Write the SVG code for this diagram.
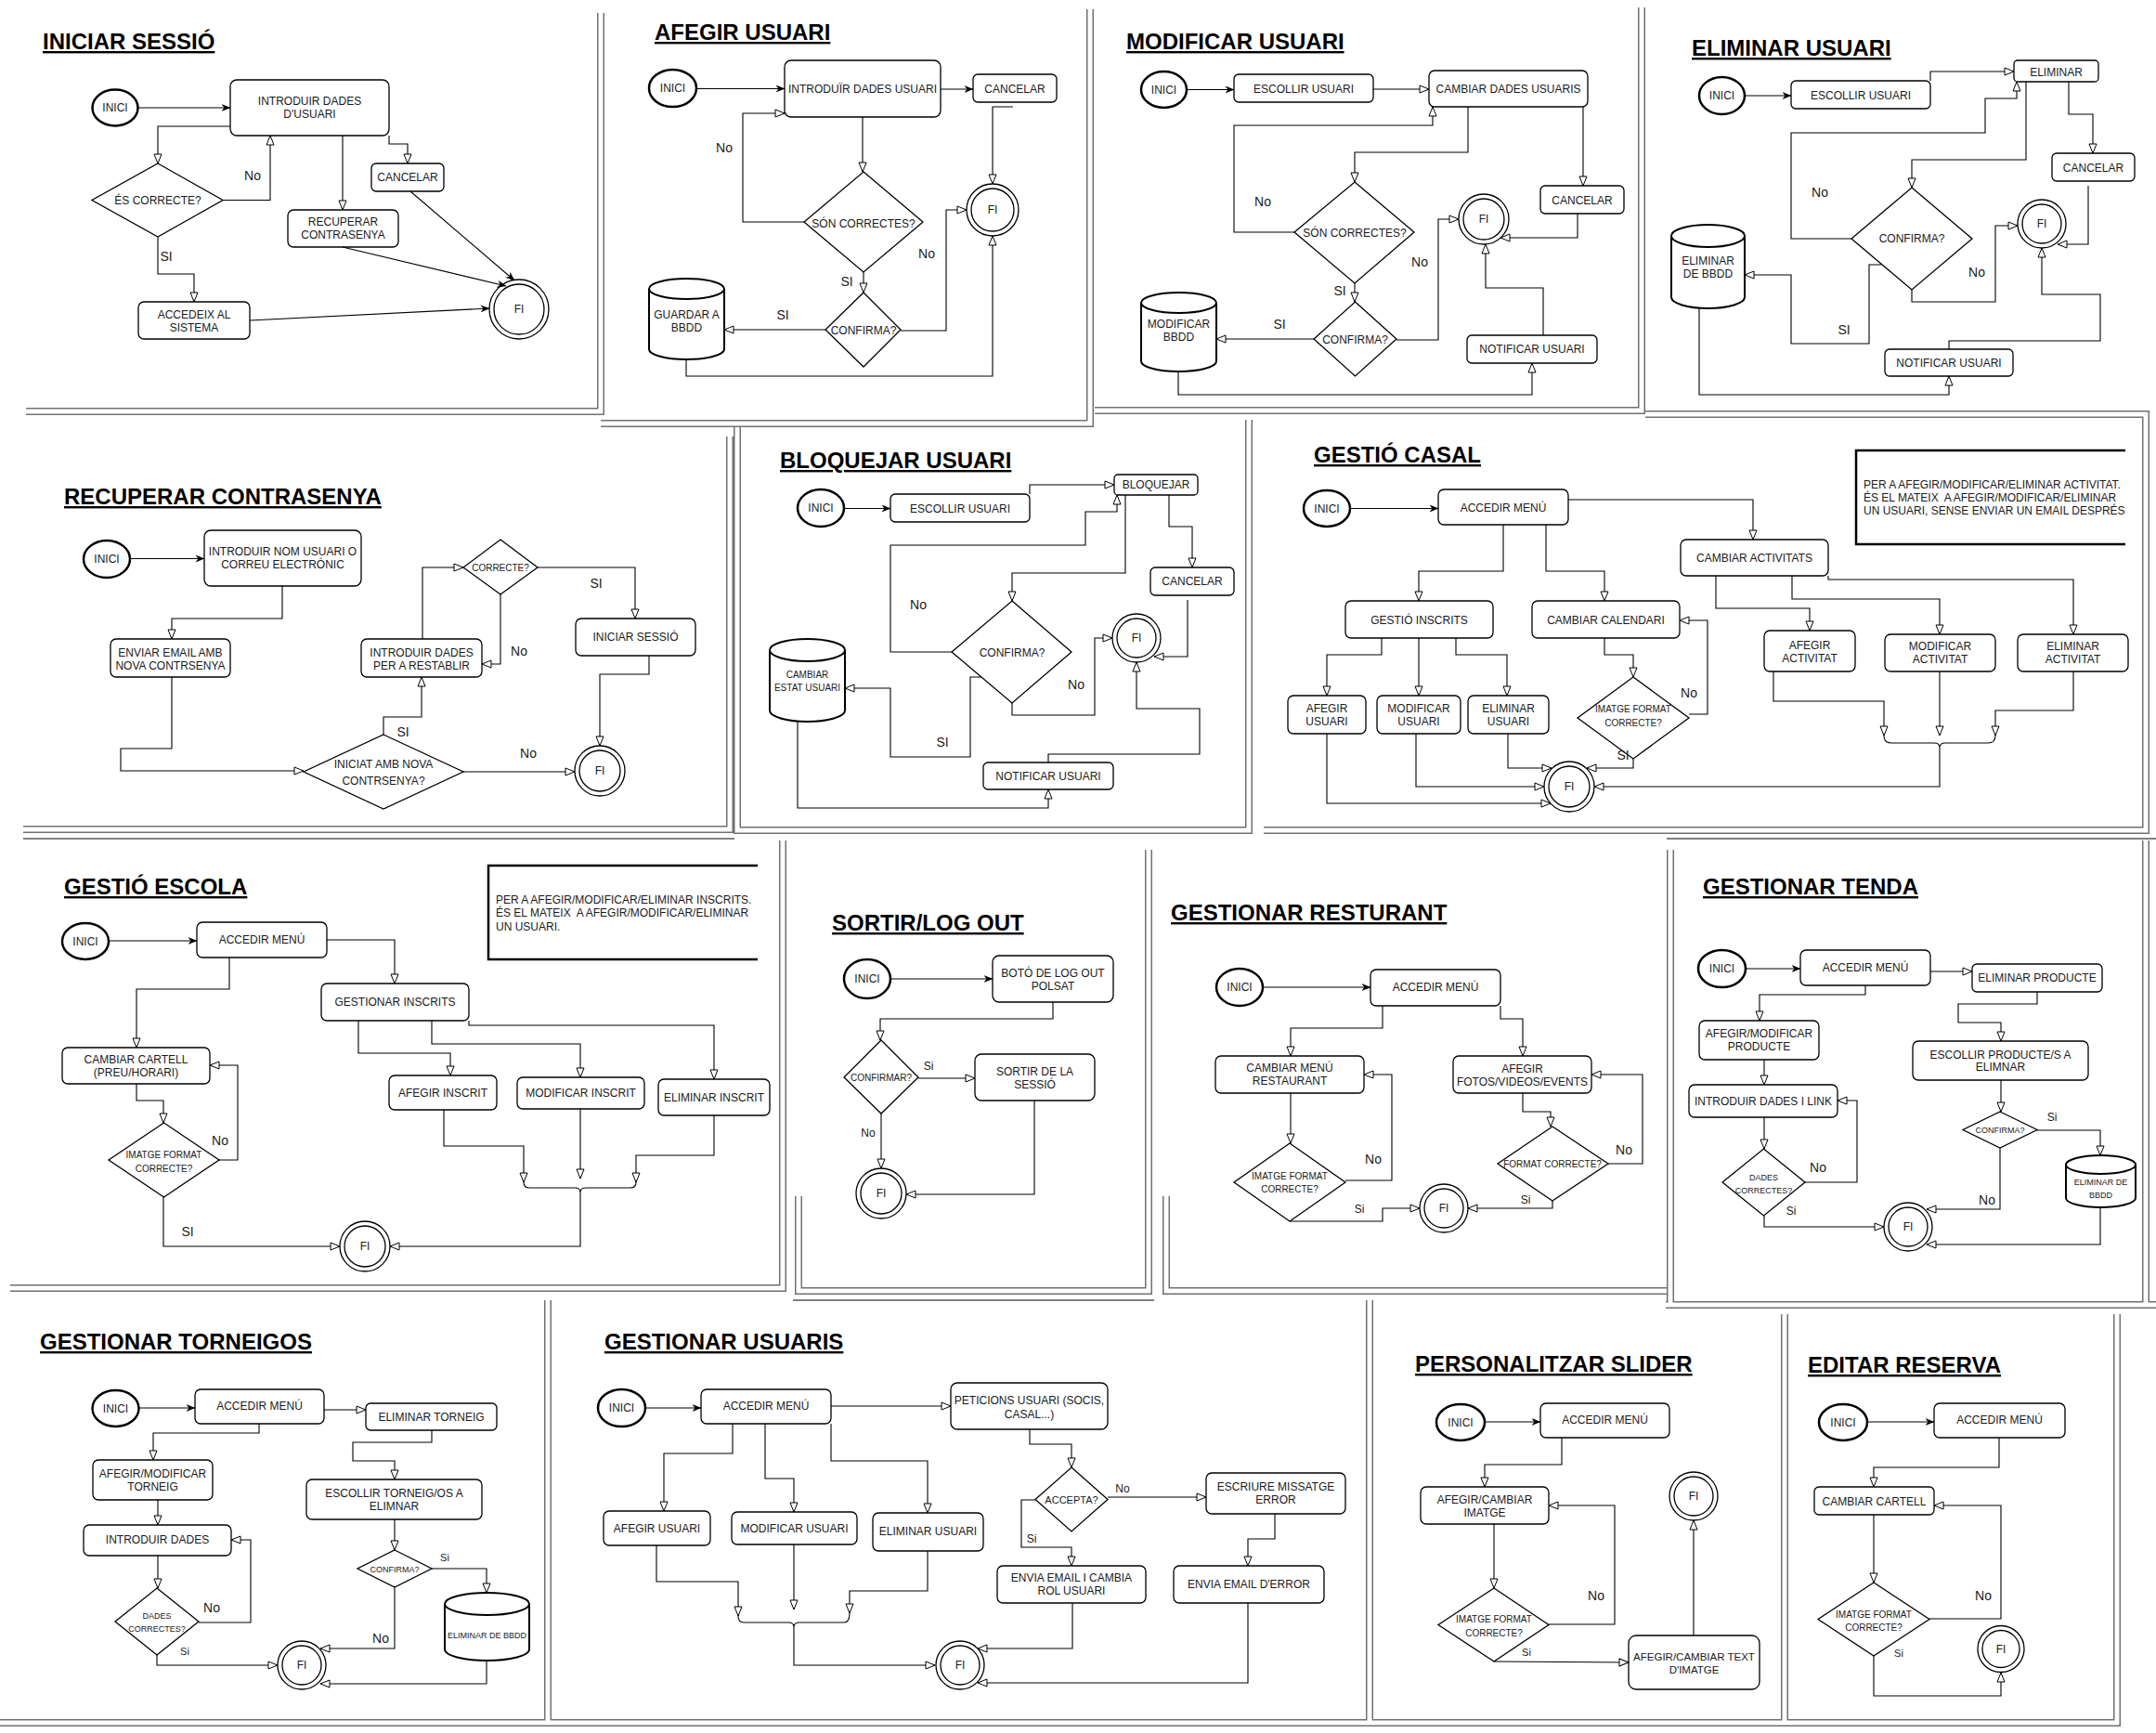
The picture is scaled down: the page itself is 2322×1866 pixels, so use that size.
<svg xmlns="http://www.w3.org/2000/svg" width="2322" height="1866" viewBox="0 0 2322 1866">
<defs>
<style>
text{font-family:"Liberation Sans",Arial,Helvetica,sans-serif;fill:#1a1a1a}
.t{font-size:12px;text-anchor:middle}
.t10{font-size:10px;text-anchor:middle}
.t9{font-size:9px;text-anchor:middle}
.lb{font-size:14px;text-anchor:middle}
.ls{font-size:12px;text-anchor:middle}
.lx{font-size:11px;text-anchor:middle}
.ttl{font-size:24px;font-weight:bold;text-decoration:underline;fill:#000}
.nt{font-size:12px}
.b{fill:#fff;stroke:#000;stroke-width:1.3}
.s{fill:#fff;stroke:#000;stroke-width:2.5}
.cy{fill:#fff;stroke:#000;stroke-width:2}
.fi{fill:#fff;stroke:#000;stroke-width:1.3}
.fo{fill:none;stroke:#000;stroke-width:1.3}
.e path{fill:none;stroke:#000;stroke-width:1.1;marker-end:url(#o)}
.e path.f{marker-end:url(#f)}
.e path.n{marker-end:none}
.note{fill:none;stroke:#000;stroke-width:2.5}
.fr{fill:none;stroke:#707070;stroke-width:8}
.fr2{fill:none;stroke:#fff;stroke-width:5}
.fr1{fill:none;stroke:#555;stroke-width:1.5}
</style>
<marker id="o" viewBox="0 0 12 10" refX="11" refY="5" markerWidth="12" markerHeight="10" markerUnits="userSpaceOnUse" orient="auto"><path d="M1,1 L11,5 L1,9 Z" fill="#fff" stroke="#000" stroke-width="1"/></marker>
<marker id="f" viewBox="0 0 10 8" refX="9.5" refY="4" markerWidth="10" markerHeight="8" markerUnits="userSpaceOnUse" orient="auto"><path d="M0,0 L10,4 L0,8 L3,4 Z" fill="#000"/></marker>
<path id="frames" d="M28,443 H647 V14 M647,456 H1174 V10 M1179,442 H1768 V8 M1772,446 H2311 V894 H1361 M25,893 H786 V470 M794,460 V894 H1345 V452 M11,1387 H843 V905 M860,1288 V1390 H1237 V915 M1256,1288 V1390 H1795 M1799,915 V1405 M1794,1405 H2322 M2311,905 V1405 M0,1855 H590 V1400 M590,1855 H1475 V1400 M1475,1855 H1922 V1415 M1922,1855 H2280 V1415"/>
</defs>
<rect x="0" y="0" width="2322" height="1866" fill="#fff"/>
<g id="frames-g">
<use href="#frames" class="fr"/>
<use href="#frames" class="fr2"/>
<path class="fr1" d="M25,903 H791 M1795,903 H2322 M854,1400 H1243"/>
</g>

<!-- PANEL 1 INICIAR SESSIO -->
<g id="p1">
<text class="ttl" x="46" y="53">INICIAR SESSIÓ</text>
<g id="p1-inici"><ellipse class="s" cx="124" cy="116" rx="24.5" ry="19.5"/><text class="t" x="124" y="120">INICI</text></g>
<g id="p1-intro"><rect class="b" x="248" y="86" width="171" height="60" rx="7"/><text class="t" x="333.5" y="113">INTRODUIR DADES</text><text class="t" x="333.5" y="127">D'USUARI</text></g>
<g id="p1-dec"><polygon class="b" points="170,176 240,215.5 170,255 99,215.5"/><text class="t" x="170" y="219.5">ÉS CORRECTE?</text></g>
<g id="p1-acc"><rect class="b" x="149" y="325" width="120" height="40" rx="6"/><text class="t" x="209" y="343">ACCEDEIX AL</text><text class="t" x="209" y="357">SISTEMA</text></g>
<g id="p1-rec"><rect class="b" x="310" y="226" width="119" height="40" rx="6"/><text class="t" x="369.5" y="243">RECUPERAR</text><text class="t" x="369.5" y="257">CONTRASENYA</text></g>
<g id="p1-can"><rect class="b" x="400" y="176" width="78" height="30" rx="5"/><text class="t" x="439" y="195">CANCELAR</text></g>
<g id="p1-fi"><circle class="fi" cx="559" cy="333" r="32"/><circle class="fo" cx="559" cy="333" r="27"/><text class="t" x="559" y="337">FI</text></g>
<g id="p1-edges" class="e">
<path class="f" d="M148.5,116 H248"/>
<path d="M248,136 H170 V176"/>
<path d="M240,215.5 H291 V146"/>
<path d="M170,255 V295 H209 V325"/>
<path class="f" d="M269,345 L527,332"/>
<path d="M369,146 V226"/>
<path d="M419,146 V155 H439 V176"/>
<path class="f" d="M369,266 L545,308"/>
<path class="f" d="M442,206 L554,302"/>
<text class="lb" x="272" y="194">No</text>
<text class="lb" x="179" y="281">SI</text>
</g>
</g>

<!-- PANEL 2 AFEGIR USUARI -->
<g id="p2">
<text class="ttl" x="705" y="43">AFEGIR USUARI</text>
<g id="p2-inici"><ellipse class="s" cx="724.5" cy="95" rx="25.5" ry="20"/><text class="t" x="724.5" y="99">INICI</text></g>
<g id="p2-intro"><rect class="b" x="845" y="65" width="168" height="61" rx="7"/><text class="t" x="929" y="100">INTRODUÏR DADES USUARI</text></g>
<g id="p2-can"><rect class="b" x="1048" y="80" width="90" height="30" rx="5"/><text class="t" x="1093" y="100">CANCELAR</text></g>
<g id="p2-fi"><circle class="fi" cx="1069" cy="226" r="28"/><circle class="fo" cx="1069" cy="226" r="23"/><text class="t" x="1069" y="230">FI</text></g>
<g id="p2-dec1"><polygon class="b" points="930,185 994,239 930,293 866,239"/><text class="t" x="930" y="245">SÓN CORRECTES?</text></g>
<g id="p2-dec2"><polygon class="b" points="930,315 970,355 930,395 889,355"/><text class="t" x="930" y="360">CONFIRMA?</text></g>
<g id="p2-db"><path class="cy" d="M699,311 A40.5,11 0 0 1 780,311 V376 A40.5,11 0 0 1 699,376 Z M699,311 A40.5,11 0 0 0 780,311"/><text class="t" x="739.5" y="343">GUARDAR A</text><text class="t" x="739.5" y="357">BBDD</text></g>
<g id="p2-edges" class="e">
<path class="f" d="M750,95.5 H845"/>
<path class="f" d="M1013,96 H1048"/>
<path d="M1091,115 H1069 V198"/>
<path d="M929,126 V185"/>
<path d="M866,239 H800 V122 H845"/>
<path d="M930,293 V315"/>
<path d="M970,356 H1019 V226 H1041"/>
<path d="M889,355 H780"/>
<path d="M739,387 V405 H1069 V254"/>
<text class="lb" x="780" y="164">No</text>
<text class="lb" x="912" y="308">SI</text>
<text class="lb" x="998" y="278">No</text>
<text class="lb" x="843" y="344">SI</text>
</g>
</g>

<!-- PANEL 3 MODIFICAR USUARI -->
<g id="p3">
<text class="ttl" x="1213" y="53">MODIFICAR USUARI</text>
<g id="p3-inici"><ellipse class="s" cx="1253.5" cy="96.5" rx="24.5" ry="19.5"/><text class="t" x="1253.5" y="100.5">INICI</text></g>
<g id="p3-esc"><rect class="b" x="1329" y="80" width="150" height="30" rx="5"/><text class="t" x="1404" y="100">ESCOLLIR USUARI</text></g>
<g id="p3-camb"><rect class="b" x="1539" y="76" width="171" height="39" rx="6"/><text class="t" x="1624.5" y="100">CAMBIAR DADES USUARIS</text></g>
<g id="p3-can"><rect class="b" x="1659" y="200" width="90" height="30" rx="5"/><text class="t" x="1704" y="220">CANCELAR</text></g>
<g id="p3-dec1"><polygon class="b" points="1459,196 1523,250 1459,305 1394,250"/><text class="t" x="1459" y="255">SÓN CORRECTES?</text></g>
<g id="p3-dec2"><polygon class="b" points="1459.5,325 1504,365 1459.5,405 1415,365"/><text class="t" x="1459.5" y="370">CONFIRMA?</text></g>
<g id="p3-db"><path class="cy" d="M1229,326 A40.5,11 0 0 1 1310,326 V389 A40.5,11 0 0 1 1229,389 Z M1229,326 A40.5,11 0 0 0 1310,326"/><text class="t" x="1269.5" y="353">MODIFICAR</text><text class="t" x="1269.5" y="367">BBDD</text></g>
<g id="p3-fi"><circle class="fi" cx="1598" cy="236" r="27"/><circle class="fo" cx="1598" cy="236" r="22"/><text class="t" x="1598" y="240">FI</text></g>
<g id="p3-not"><rect class="b" x="1580" y="361" width="140" height="30" rx="5"/><text class="t" x="1650" y="380">NOTIFICAR USUARI</text></g>
<g id="p3-edges" class="e">
<path class="f" d="M1278,96.5 H1329"/>
<path d="M1479,96 H1539"/>
<path d="M1705,115 V200"/>
<path d="M1581,115 V164 H1459 V196"/>
<path d="M1394,250 H1329 V135 H1543 V115"/>
<path d="M1459,305 V325"/>
<path d="M1415,365 H1310"/>
<path d="M1504,366 H1549 V236 H1571"/>
<path d="M1699,230 V256 H1616"/>
<path d="M1662,361 V310 H1600 V263"/>
<path d="M1269,400 V425 H1650 V391"/>
<text class="lb" x="1360" y="222">No</text>
<text class="lb" x="1443" y="318">SI</text>
<text class="lb" x="1529" y="287">No</text>
<text class="lb" x="1378" y="354">SI</text>
</g>
</g>

<!-- PANEL 4 ELIMINAR USUARI -->
<g id="p4">
<text class="ttl" x="1822" y="60">ELIMINAR USUARI</text>
<g id="p4-inici"><ellipse class="s" cx="1854.5" cy="103" rx="24.5" ry="20"/><text class="t" x="1854.5" y="107">INICI</text></g>
<g id="p4-esc"><rect class="b" x="1929" y="87" width="150" height="30" rx="5"/><text class="t" x="2004" y="107">ESCOLLIR USUARI</text></g>
<g id="p4-elim"><rect class="b" x="2169" y="65" width="91" height="23" rx="4"/><text class="t" x="2214.5" y="82">ELIMINAR</text></g>
<g id="p4-can"><rect class="b" x="2210" y="165" width="89" height="30" rx="5"/><text class="t" x="2254.5" y="185">CANCELAR</text></g>
<g id="p4-dec"><polygon class="b" points="2059,202 2124,257 2059,312 1994,257"/><text class="t" x="2059" y="261">CONFIRMA?</text></g>
<g id="p4-fi"><circle class="fi" cx="2199" cy="241" r="26"/><circle class="fo" cx="2199" cy="241" r="21"/><text class="t" x="2199" y="245">FI</text></g>
<g id="p4-db"><path class="cy" d="M1800,254 A39.5,12 0 0 1 1879,254 V320 A39.5,12 0 0 1 1800,320 Z M1800,254 A39.5,12 0 0 0 1879,254"/><text class="t" x="1839.5" y="285">ELIMINAR</text><text class="t" x="1839.5" y="299">DE BBDD</text></g>
<g id="p4-not"><rect class="b" x="2030" y="376" width="138" height="29" rx="5"/><text class="t" x="2099" y="395">NOTIFICAR USUARI</text></g>
<g id="p4-edges" class="e">
<path class="f" d="M1879,103 H1929"/>
<path d="M2079,87 V77 H2169"/>
<path d="M2228,88 V123 H2254 V165"/>
<path d="M2249,200 V263 H2216"/>
<path d="M2182,88 V172 H2059 V202"/>
<path d="M1994,257 H1929 V143 H2138 V106 H2172 V88"/>
<path d="M2026,285 H2013 V370 H1929 V296 H1879"/>
<path d="M2059,312 V325 H2149 V243 H2173"/>
<path d="M2099,376 V367 H2262 V317 H2199 V267"/>
<path d="M1830,332 V425 H2099 V405"/>
<text class="lb" x="1960" y="212">No</text>
<text class="lb" x="1986" y="360">SI</text>
<text class="lb" x="2129" y="298">No</text>
</g>
</g>

<!-- PANEL 5 RECUPERAR CONTRASENYA -->
<g id="p5">
<text class="ttl" x="69" y="543">RECUPERAR CONTRASENYA</text>
<g id="p5-inici"><ellipse class="s" cx="115" cy="602" rx="25" ry="20"/><text class="t" x="115" y="606">INICI</text></g>
<g id="p5-intro"><rect class="b" x="220" y="571" width="169" height="60" rx="7"/><text class="t" x="304.5" y="598">INTRODUIR NOM USUARI O</text><text class="t" x="304.5" y="612">CORREU ELECTRÓNIC</text></g>
<g id="p5-env"><rect class="b" x="119" y="688" width="129" height="41" rx="6"/><text class="t" x="183.5" y="707">ENVIAR EMAIL AMB</text><text class="t" x="183.5" y="721">NOVA CONTRSENYA</text></g>
<g id="p5-dec1"><polygon class="b" points="413,791 499,831 413,871 327,831"/><text class="t" x="413" y="827">INICIAT AMB NOVA</text><text class="t" x="413" y="845">CONTRSENYA?</text></g>
<g id="p5-rest"><rect class="b" x="389" y="688" width="130" height="41" rx="6"/><text class="t" x="454" y="707">INTRODUIR DADES</text><text class="t" x="454" y="721">PER A RESTABLIR</text></g>
<g id="p5-dec2"><polygon class="b" points="539,581 579,611 539,640 499,611"/><text class="t10" x="539" y="614.5">CORRECTE?</text></g>
<g id="p5-ini"><rect class="b" x="620" y="666" width="129" height="40" rx="6"/><text class="t" x="684.5" y="690">INICIAR SESSIÓ</text></g>
<g id="p5-fi"><circle class="fi" cx="646" cy="830" r="27"/><circle class="fo" cx="646" cy="830" r="22"/><text class="t" x="646" y="834">FI</text></g>
<g id="p5-edges" class="e">
<path class="f" d="M140,601.5 H220"/>
<path d="M304,631 V666 H185 V688"/>
<path d="M185,729 V806 H130 V830 H327"/>
<path d="M413,791 V772 H454 V729"/>
<path d="M455,688 V611 H499"/>
<path d="M539,640 V715 H519"/>
<path d="M579,611 H684 V666"/>
<path d="M699,706 V726 H646 V803"/>
<path d="M499,831 H619"/>
<text class="lb" x="434" y="793">SI</text>
<text class="lb" x="559" y="706">No</text>
<text class="lb" x="642" y="633">SI</text>
<text class="lb" x="569" y="816">No</text>
</g>
</g>

<!-- PANEL 6 BLOQUEJAR USUARI -->
<g id="p6">
<text class="ttl" x="840" y="504">BLOQUEJAR USUARI</text>
<g id="p6-inici"><ellipse class="s" cx="884" cy="547" rx="25" ry="20"/><text class="t" x="884" y="551">INICI</text></g>
<g id="p6-esc"><rect class="b" x="959" y="532" width="150" height="30" rx="5"/><text class="t" x="1034" y="552">ESCOLLIR USUARI</text></g>
<g id="p6-bloq"><rect class="b" x="1200" y="511" width="90" height="22" rx="4"/><text class="t" x="1245" y="526">BLOQUEJAR</text></g>
<g id="p6-can"><rect class="b" x="1239" y="611" width="90" height="30" rx="5"/><text class="t" x="1284" y="630">CANCELAR</text></g>
<g id="p6-dec"><polygon class="b" points="1090,647 1154,702 1090,757 1025,702"/><text class="t" x="1090" y="707">CONFIRMA?</text></g>
<g id="p6-db"><path class="cy" d="M829,700 A40.5,12 0 0 1 910,700 V765 A40.5,12 0 0 1 829,765 Z M829,700 A40.5,12 0 0 0 910,700"/><text class="t10" x="869.5" y="729.5">CAMBIAR</text><text class="t10" x="869.5" y="743.5">ESTAT USUARI</text></g>
<g id="p6-fi"><circle class="fi" cx="1224" cy="687" r="26"/><circle class="fo" cx="1224" cy="687" r="21"/><text class="t" x="1224" y="691">FI</text></g>
<g id="p6-not"><rect class="b" x="1059" y="821" width="140" height="29" rx="5"/><text class="t" x="1129" y="840">NOTIFICAR USUARI</text></g>
<g id="p6-edges" class="e">
<path class="f" d="M909,547.5 H959"/>
<path d="M1109,532 V522 H1200"/>
<path d="M1259,533 V567 H1284 V611"/>
<path d="M1279,646 V707 H1243"/>
<path d="M1212,533 V617 H1090 V647"/>
<path d="M1025,702 H959 V587 H1169 V551 H1203 V533"/>
<path d="M1057,729 H1045 V815 H959 V741 H910"/>
<path d="M1090,757 V770 H1179 V687 H1198"/>
<path d="M1129,821 V812 H1292 V763 H1224 V713"/>
<path d="M859,777 V870 H1129 V850"/>
<text class="lb" x="989" y="656">No</text>
<text class="lb" x="1015" y="804">SI</text>
<text class="lb" x="1159" y="742">No</text>
</g>
</g>

<!-- PANEL 7 GESTIO CASAL -->
<g id="p7">
<text class="ttl" x="1415" y="498">GESTIÓ CASAL</text>
<g id="p7-inici"><ellipse class="s" cx="1429" cy="547.5" rx="25" ry="19.5"/><text class="t" x="1429" y="551.5">INICI</text></g>
<g id="p7-menu"><rect class="b" x="1549" y="527" width="140" height="38" rx="6"/><text class="t" x="1619" y="551">ACCEDIR MENÚ</text></g>
<g id="p7-act"><rect class="b" x="1810" y="581" width="159" height="39" rx="6"/><text class="t" x="1889.5" y="605">CAMBIAR ACTIVITATS</text></g>
<g id="p7-ins"><rect class="b" x="1449" y="647" width="159" height="40" rx="6"/><text class="t" x="1528.5" y="672">GESTIÓ INSCRITS</text></g>
<g id="p7-cal"><rect class="b" x="1650" y="647" width="159" height="40" rx="6"/><text class="t" x="1729.5" y="672">CAMBIAR CALENDARI</text></g>
<g id="p7-afu"><rect class="b" x="1387" y="749" width="84" height="41" rx="6"/><text class="t" x="1429" y="767">AFEGIR</text><text class="t" x="1429" y="781">USUARI</text></g>
<g id="p7-mou"><rect class="b" x="1483" y="749" width="90" height="41" rx="6"/><text class="t" x="1528" y="767">MODIFICAR</text><text class="t" x="1528" y="781">USUARI</text></g>
<g id="p7-elu"><rect class="b" x="1581" y="749" width="87" height="41" rx="6"/><text class="t" x="1624.5" y="767">ELIMINAR</text><text class="t" x="1624.5" y="781">USUARI</text></g>
<g id="p7-dec"><polygon class="b" points="1759,729 1819,773 1759,817 1699,773"/><text class="t10" x="1759" y="766.5">IMATGE FORMAT</text><text class="t10" x="1759" y="781.5">CORRECTE?</text></g>
<g id="p7-fi"><circle class="fi" cx="1690" cy="847" r="27"/><circle class="fo" cx="1690" cy="847" r="22"/><text class="t" x="1690" y="851">FI</text></g>
<g id="p7-afa"><rect class="b" x="1900" y="679" width="98" height="44" rx="6"/><text class="t" x="1949" y="699">AFEGIR</text><text class="t" x="1949" y="713">ACTIVITAT</text></g>
<g id="p7-moa"><rect class="b" x="2030" y="683" width="119" height="40" rx="6"/><text class="t" x="2089.5" y="700">MODIFICAR</text><text class="t" x="2089.5" y="714">ACTIVITAT</text></g>
<g id="p7-ela"><rect class="b" x="2173" y="683" width="119" height="40" rx="6"/><text class="t" x="2232.5" y="700">ELIMINAR</text><text class="t" x="2232.5" y="714">ACTIVITAT</text></g>
<g id="p7-note"><path class="note" d="M2289,485 H1999 V586 H2289"/><text class="nt" x="2007" y="526">PER A AFEGIR/MODIFICAR/ELIMINAR ACTIVITAT.</text><text class="nt" x="2007" y="540" xml:space="preserve">ÉS EL MATEIX  A AFEGIR/MODIFICAR/ELIMINAR</text><text class="nt" x="2007" y="554">UN USUARI, SENSE ENVIAR UN EMAIL DESPRÉS</text></g>
<g id="p7-edges" class="e">
<path class="f" d="M1454,547.5 H1549"/>
<path d="M1689,538 H1888 V581"/>
<path d="M1619,565 V615 H1528 V647"/>
<path d="M1665,565 V615 H1728 V647"/>
<path d="M1488,687 V705 H1429 V749"/>
<path d="M1528,687 V749"/>
<path d="M1568,687 V705 H1623 V749"/>
<path d="M1728,687 V705 H1759 V729"/>
<path d="M1819,769 H1839 V668 H1809"/>
<path d="M1759,817 V827 H1709"/>
<path d="M1624,790 V827 H1671"/>
<path d="M1525,790 V847 H1663"/>
<path d="M1429,790 V865 H1670"/>
<path d="M1848,620 V655 H1949 V679"/>
<path d="M1930,620 V645 H2089 V683"/>
<path d="M1969,620 V624 H2233 V683"/>
<path d="M1910,723 V755 H2029 V792"/>
<path d="M2089,723 V792"/>
<path d="M2233,723 V765 H2149 V792"/>
<path class="n" d="M2029,792 Q2029,800 2037,800 H2083 Q2089,800 2089,805 Q2089,800 2095,800 H2141 Q2149,800 2149,792"/>
<path d="M2089,805 V847 H1717"/>
<text class="lb" x="1819" y="751">No</text>
<text class="lb" x="1748" y="818">SI</text>
</g>
</g>

<!-- PANEL 8 GESTIO ESCOLA -->
<g id="p8">
<text class="ttl" x="69" y="963">GESTIÓ ESCOLA</text>
<g id="p8-inici"><ellipse class="s" cx="92" cy="1013.5" rx="25" ry="19.5"/><text class="t" x="92" y="1017.5">INICI</text></g>
<g id="p8-menu"><rect class="b" x="212" y="993" width="140" height="38" rx="6"/><text class="t" x="282" y="1016">ACCEDIR MENÚ</text></g>
<g id="p8-gins"><rect class="b" x="346" y="1059" width="159" height="40" rx="6"/><text class="t" x="425.5" y="1083">GESTIONAR INSCRITS</text></g>
<g id="p8-cart"><rect class="b" x="67" y="1128" width="159" height="39" rx="6"/><text class="t" x="146.5" y="1145">CAMBIAR CARTELL</text><text class="t" x="146.5" y="1159">(PREU/HORARI)</text></g>
<g id="p8-dec"><polygon class="b" points="176.5,1209 236,1249 176.5,1289 117,1249"/><text class="t10" x="176.5" y="1246.5">IMATGE FORMAT</text><text class="t10" x="176.5" y="1261.5">CORRECTE?</text></g>
<g id="p8-fi"><circle class="fi" cx="393" cy="1342" r="27"/><circle class="fo" cx="393" cy="1342" r="22"/><text class="t" x="393" y="1346">FI</text></g>
<g id="p8-afi"><rect class="b" x="419" y="1158" width="116" height="37" rx="6"/><text class="t" x="477" y="1181">AFEGIR INSCRIT</text></g>
<g id="p8-moi"><rect class="b" x="557" y="1160" width="137" height="34" rx="6"/><text class="t" x="625.5" y="1181">MODIFICAR INSCRIT</text></g>
<g id="p8-eli"><rect class="b" x="709" y="1162" width="120" height="39" rx="6"/><text class="t" x="769" y="1186">ELIMINAR INSCRIT</text></g>
<g id="p8-note"><path class="note" d="M816,932 H526 V1033 H816"/><text class="nt" x="534" y="973">PER A AFEGIR/MODIFICAR/ELIMINAR INSCRITS.</text><text class="nt" x="534" y="987" xml:space="preserve">ÉS EL MATEIX  A AFEGIR/MODIFICAR/ELIMINAR</text><text class="nt" x="534" y="1002">UN USUARI.</text></g>
<g id="p8-edges" class="e">
<path class="f" d="M117,1013 H212"/>
<path d="M352,1012 H425 V1059"/>
<path d="M247,1031 V1065 H147 V1128"/>
<path d="M147,1167 V1185 H176 V1209"/>
<path d="M236,1249 H256 V1147 H226"/>
<path d="M176,1289 V1342 H366"/>
<path d="M386,1099 V1134 H485 V1158"/>
<path d="M465,1099 V1124 H625 V1160"/>
<path d="M505,1099 V1104 H769 V1162"/>
<path d="M478,1195 V1234 H564 V1273"/>
<path d="M625,1194 V1269"/>
<path d="M769,1201 V1244 H685 V1273"/>
<path class="n" d="M564,1273 Q564,1279 570,1279 H619 Q625,1279 625,1284 Q625,1279 631,1279 H679 Q685,1279 685,1273"/>
<path d="M625,1284 V1342 H420"/>
<text class="lb" x="237" y="1233">No</text>
<text class="lb" x="202" y="1331">SI</text>
</g>
</g>

<!-- PANEL 9 SORTIR -->
<g id="p9">
<text class="ttl" x="896" y="1002">SORTIR/LOG OUT</text>
<g id="p9-inici"><ellipse class="s" cx="934" cy="1054" rx="25" ry="21"/><text class="t" x="934" y="1058">INICI</text></g>
<g id="p9-boto"><rect class="b" x="1069" y="1029" width="130" height="50" rx="7"/><text class="t" x="1134" y="1052">BOTÓ DE LOG OUT</text><text class="t" x="1134" y="1066">POLSAT</text></g>
<g id="p9-dec"><polygon class="b" points="949,1120 989,1160 949,1199 909,1160"/><text class="t10" x="949" y="1163.5">CONFIRMAR?</text></g>
<g id="p9-sort"><rect class="b" x="1050" y="1135" width="129" height="50" rx="7"/><text class="t" x="1114.5" y="1158">SORTIR DE LA</text><text class="t" x="1114.5" y="1172">SESSIÓ</text></g>
<g id="p9-fi"><circle class="fi" cx="949" cy="1285" r="27"/><circle class="fo" cx="949" cy="1285" r="22"/><text class="t" x="949" y="1289">FI</text></g>
<g id="p9-edges" class="e">
<path class="f" d="M959,1054 H1069"/>
<path d="M1134,1079 V1097 H948 V1120"/>
<path d="M989,1161 H1050"/>
<path d="M949,1199 V1258"/>
<path d="M1114,1185 V1286 H976"/>
<text class="ls" x="1000" y="1152">Si</text>
<text class="ls" x="935" y="1224">No</text>
</g>
</g>

<!-- PANEL 10 RESTURANT -->
<g id="p10">
<text class="ttl" x="1261" y="991">GESTIONAR RESTURANT</text>
<g id="p10-inici"><ellipse class="s" cx="1335" cy="1063" rx="25" ry="20"/><text class="t" x="1335" y="1067">INICI</text></g>
<g id="p10-menu"><rect class="b" x="1476" y="1044" width="140" height="39" rx="6"/><text class="t" x="1546" y="1067">ACCEDIR MENÚ</text></g>
<g id="p10-cmr"><rect class="b" x="1309" y="1137" width="160" height="40" rx="6"/><text class="t" x="1389" y="1154">CAMBIAR MENÚ</text><text class="t" x="1389" y="1168">RESTAURANT</text></g>
<g id="p10-fot"><rect class="b" x="1565" y="1137" width="149" height="40" rx="6"/><text class="t" x="1639.5" y="1155">AFEGIR</text><text class="t" x="1639.5" y="1169">FOTOS/VIDEOS/EVENTS</text></g>
<g id="p10-dec1"><polygon class="b" points="1389,1231 1449,1273 1389,1315 1329,1273"/><text class="t10" x="1389" y="1269.5">IMATGE FORMAT</text><text class="t10" x="1389" y="1283.5">CORRECTE?</text></g>
<g id="p10-fi"><circle class="fi" cx="1555" cy="1301" r="26"/><circle class="fo" cx="1555" cy="1301" r="21"/><text class="t" x="1555" y="1305">FI</text></g>
<g id="p10-dec2"><polygon class="b" points="1672,1213 1732,1253 1672,1293 1613,1253"/><text class="t10" x="1672" y="1256.5">FORMAT CORRECTE?</text></g>
<g id="p10-edges" class="e">
<path class="f" d="M1360,1063 H1476"/>
<path d="M1489,1083 V1107 H1390 V1137"/>
<path d="M1616,1083 V1097 H1640 V1137"/>
<path d="M1390,1177 V1231"/>
<path d="M1449,1271 H1499 V1157 H1469"/>
<path d="M1389,1315 H1489 V1301 H1529"/>
<path d="M1640,1177 V1197 H1670 V1213"/>
<path d="M1732,1253 H1769 V1157 H1714"/>
<path d="M1672,1293 V1301 H1581"/>
<text class="lb" x="1479" y="1253">No</text>
<text class="ls" x="1464" y="1306">Si</text>
<text class="lb" x="1749" y="1243">No</text>
<text class="ls" x="1643" y="1296">Si</text>
</g>
</g>

<!-- PANEL 11 TENDA -->
<g id="p11">
<text class="ttl" x="1834" y="963">GESTIONAR TENDA</text>
<g id="p11-inici"><ellipse class="s" cx="1854.5" cy="1043" rx="25.5" ry="20"/><text class="t" x="1854.5" y="1047">INICI</text></g>
<g id="p11-menu"><rect class="b" x="1939" y="1023" width="140" height="38" rx="6"/><text class="t" x="2009" y="1046">ACCEDIR MENÚ</text></g>
<g id="p11-elp"><rect class="b" x="2124" y="1038" width="140" height="30" rx="5"/><text class="t" x="2194" y="1057">ELIMINAR PRODUCTE</text></g>
<g id="p11-esc"><rect class="b" x="2060" y="1121" width="189" height="42" rx="6"/><text class="t" x="2154.5" y="1140">ESCOLLIR PRODUCTE/S A</text><text class="t" x="2154.5" y="1153">ELIMNAR</text></g>
<g id="p11-conf"><polygon class="b" points="2154,1197 2194,1216.5 2154,1236 2114,1216.5"/><text class="t9" x="2154" y="1220">CONFIRMA?</text></g>
<g id="p11-db"><path class="cy" d="M2225,1254 A37.5,10 0 0 1 2300,1254 V1290 A37.5,10 0 0 1 2225,1290 Z M2225,1254 A37.5,10 0 0 0 2300,1254"/><text class="t9" x="2262.5" y="1276">ELIMINAR DE</text><text class="t9" x="2262.5" y="1290">BBDD</text></g>
<g id="p11-fi"><circle class="fi" cx="2055" cy="1321" r="26"/><circle class="fo" cx="2055" cy="1321" r="21"/><text class="t" x="2055" y="1325">FI</text></g>
<g id="p11-afp"><rect class="b" x="1830" y="1099" width="129" height="42" rx="6"/><text class="t" x="1894.5" y="1117">AFEGIR/MODIFICAR</text><text class="t" x="1894.5" y="1131">PRODUCTE</text></g>
<g id="p11-intro"><rect class="b" x="1819" y="1168" width="160" height="35" rx="6"/><text class="t" x="1899" y="1190">INTRODUIR DADES I LINK</text></g>
<g id="p11-dec"><polygon class="b" points="1899.5,1237 1944,1273 1899.5,1309 1855,1273"/><text class="t9" x="1899.5" y="1271">DADES</text><text class="t9" x="1899.5" y="1285">CORRECTES?</text></g>
<g id="p11-edges" class="e">
<path class="f" d="M1880,1043 H1939"/>
<path d="M2079,1046 H2124"/>
<path d="M2194,1068 V1081 H2109 V1101 H2155 V1121"/>
<path d="M2155,1163 V1197"/>
<path d="M2194,1217 H2262 V1244"/>
<path d="M2154,1236 V1302 H2075"/>
<path d="M2262,1300 V1340 H2075"/>
<path d="M2009,1061 V1071 H1895 V1099"/>
<path d="M1900,1141 V1168"/>
<path d="M1900,1203 V1237"/>
<path d="M1944,1273 H2000 V1185 H1979"/>
<path d="M1900,1309 V1321 H2029"/>
<text class="ls" x="2210" y="1207">Si</text>
<text class="lb" x="2140" y="1297">No</text>
<text class="lb" x="1958" y="1262">No</text>
<text class="ls" x="1929" y="1308">Si</text>
</g>
</g>

<!-- PANEL 12 TORNEIGOS -->
<g id="p12">
<text class="ttl" x="43" y="1453">GESTIONAR TORNEIGOS</text>
<g id="p12-inici"><ellipse class="s" cx="124.5" cy="1516.5" rx="25" ry="19.5"/><text class="t" x="124.5" y="1520.5">INICI</text></g>
<g id="p12-menu"><rect class="b" x="210" y="1496" width="139" height="37" rx="6"/><text class="t" x="279.5" y="1518">ACCEDIR MENÚ</text></g>
<g id="p12-elt"><rect class="b" x="394" y="1511" width="141" height="29" rx="5"/><text class="t" x="464.5" y="1530">ELIMINAR TORNEIG</text></g>
<g id="p12-esc"><rect class="b" x="330" y="1593" width="189" height="43" rx="6"/><text class="t" x="424.5" y="1612">ESCOLLIR TORNEIG/OS A</text><text class="t" x="424.5" y="1626">ELIMNAR</text></g>
<g id="p12-conf"><polygon class="b" points="425,1669 465,1689 425,1709 385,1689"/><text class="t9" x="425" y="1692.5">CONFIRMA?</text></g>
<g id="p12-db"><path class="cy" d="M479,1727 A45.5,12 0 0 1 570,1727 V1776 A45.5,12 0 0 1 479,1776 Z M479,1727 A45.5,12 0 0 0 570,1727"/><text class="t9" x="524.5" y="1764">ELIMINAR DE BBDD</text></g>
<g id="p12-fi"><circle class="fi" cx="325" cy="1793" r="26"/><circle class="fo" cx="325" cy="1793" r="21"/><text class="t" x="325" y="1797">FI</text></g>
<g id="p12-aft"><rect class="b" x="100" y="1572" width="129" height="43" rx="6"/><text class="t" x="164.5" y="1591">AFEGIR/MODIFICAR</text><text class="t" x="164.5" y="1605">TORNEIG</text></g>
<g id="p12-intro"><rect class="b" x="90" y="1642" width="159" height="33" rx="6"/><text class="t" x="169.5" y="1662">INTRODUIR DADES</text></g>
<g id="p12-dec"><polygon class="b" points="169,1710 214,1746 169,1782 124,1746"/><text class="t9" x="169" y="1743">DADES</text><text class="t9" x="169" y="1757">CORRECTES?</text></g>
<g id="p12-edges" class="e">
<path class="f" d="M149.5,1516 H210"/>
<path d="M349,1518 H394"/>
<path d="M465,1540 V1553 H380 V1573 H425 V1593"/>
<path d="M425,1636 V1669"/>
<path d="M465,1689 H524 V1715"/>
<path d="M425,1709 V1775 H345"/>
<path d="M524,1788 V1813 H345"/>
<path d="M279,1533 V1543 H165 V1572"/>
<path d="M170,1615 V1642"/>
<path d="M170,1675 V1710"/>
<path d="M214,1747 H270 V1658 H249"/>
<path d="M169,1782 V1793 H299"/>
<text class="lx" x="479" y="1681">Si</text>
<text class="lb" x="410" y="1769">No</text>
<text class="lb" x="228" y="1736">No</text>
<text class="lx" x="199" y="1782">Si</text>
</g>
</g>

<!-- PANEL 13 USUARIS -->
<g id="p13">
<text class="ttl" x="651" y="1453">GESTIONAR USUARIS</text>
<g id="p13-inici"><ellipse class="s" cx="669.5" cy="1516" rx="25.5" ry="20"/><text class="t" x="669.5" y="1520">INICI</text></g>
<g id="p13-menu"><rect class="b" x="755" y="1496" width="140" height="37" rx="6"/><text class="t" x="825" y="1518">ACCEDIR MENÚ</text></g>
<g id="p13-pet"><rect class="b" x="1024" y="1489" width="169" height="50" rx="7"/><text class="t" x="1108.5" y="1512">PETICIONS USUARI (SOCIS,</text><text class="t" x="1108.5" y="1527">CASAL...)</text></g>
<g id="p13-afu"><rect class="b" x="650" y="1627" width="115" height="37" rx="6"/><text class="t" x="707.5" y="1650">AFEGIR USUARI</text></g>
<g id="p13-mou"><rect class="b" x="788" y="1628" width="135" height="35" rx="6"/><text class="t" x="855.5" y="1650">MODIFICAR USUARI</text></g>
<g id="p13-elu"><rect class="b" x="940" y="1629" width="119" height="41" rx="6"/><text class="t" x="999.5" y="1653">ELIMINAR USUARI</text></g>
<g id="p13-acc"><polygon class="b" points="1154,1580 1193,1614.5 1154,1649 1115,1614.5"/><text class="lx" x="1154" y="1619">ACCEPTA?</text></g>
<g id="p13-esc"><rect class="b" x="1299" y="1586" width="150" height="44" rx="6"/><text class="t" x="1374" y="1605">ESCRIURE MISSATGE</text><text class="t" x="1374" y="1619">ERROR</text></g>
<g id="p13-err"><rect class="b" x="1264" y="1686" width="162" height="40" rx="6"/><text class="t" x="1345" y="1710">ENVIA EMAIL D'ERROR</text></g>
<g id="p13-rol"><rect class="b" x="1074" y="1686" width="160" height="40" rx="6"/><text class="t" x="1154" y="1703">ENVIA EMAIL I CAMBIA</text><text class="t" x="1154" y="1717">ROL USUARI</text></g>
<g id="p13-fi"><circle class="fi" cx="1034" cy="1793" r="26"/><circle class="fo" cx="1034" cy="1793" r="21"/><text class="t" x="1034" y="1797">FI</text></g>
<g id="p13-edges" class="e">
<path class="f" d="M695,1516 H755"/>
<path d="M895,1514 H1024"/>
<path d="M789,1533 V1565 H715 V1627"/>
<path d="M824,1533 V1592 H855 V1628"/>
<path d="M895,1533 V1573 H999 V1629"/>
<path d="M707,1664 V1703 H795 V1740"/>
<path d="M855,1663 V1733"/>
<path d="M999,1670 V1713 H915 V1737"/>
<path class="n" d="M795,1740 Q795,1747 801,1747 H849 Q855,1747 855,1752 Q855,1747 861,1747 H909 Q915,1747 915,1737"/>
<path d="M855,1752 V1793 H1007"/>
<path d="M1109,1539 V1555 H1154 V1580"/>
<path d="M1193,1612 H1299"/>
<path d="M1373,1630 V1657 H1344 V1686"/>
<path d="M1115,1615 H1100 V1666 H1154 V1686"/>
<path d="M1155,1726 V1775 H1053"/>
<path d="M1344,1726 V1812 H1053"/>
<text class="ls" x="1209" y="1607">No</text>
<text class="ls" x="1111" y="1661">Si</text>
</g>
</g>

<!-- PANEL 14 SLIDER -->
<g id="p14">
<text class="ttl" x="1524" y="1477">PERSONALITZAR SLIDER</text>
<g id="p14-inici"><ellipse class="s" cx="1573" cy="1531.5" rx="26" ry="19.5"/><text class="t" x="1573" y="1535.5">INICI</text></g>
<g id="p14-menu"><rect class="b" x="1659" y="1511" width="139" height="37" rx="6"/><text class="t" x="1728.5" y="1533">ACCEDIR MENÚ</text></g>
<g id="p14-img"><rect class="b" x="1530" y="1601" width="138" height="40" rx="6"/><text class="t" x="1599" y="1619">AFEGIR/CAMBIAR</text><text class="t" x="1599" y="1633">IMATGE</text></g>
<g id="p14-dec"><polygon class="b" points="1609,1710 1668,1749.5 1609,1789 1549,1749.5"/><text class="t10" x="1609" y="1746.5">IMATGE FORMAT</text><text class="t10" x="1609" y="1761.5">CORRECTE?</text></g>
<g id="p14-txt"><rect class="b" x="1754" y="1761" width="141" height="58" rx="8"/><text class="t" x="1824.5" y="1788" style="font-size:11.5px">AFEGIR/CAMBIAR TEXT</text><text class="t" x="1824.5" y="1802" style="font-size:11.5px">D'IMATGE</text></g>
<g id="p14-fi"><circle class="fi" cx="1824" cy="1611" r="26"/><circle class="fo" cx="1824" cy="1611" r="21"/><text class="t" x="1824" y="1615">FI</text></g>
<g id="p14-edges" class="e">
<path class="f" d="M1599,1531 H1659"/>
<path d="M1682,1548 V1577 H1599 V1601"/>
<path d="M1609,1641 V1710"/>
<path d="M1668,1749 H1739 V1621 H1668"/>
<path d="M1609,1789 L1754,1790"/>
<path d="M1824,1761 V1637"/>
<text class="lb" x="1719" y="1723">No</text>
<text class="lx" x="1644" y="1783">Si</text>
</g>
</g>

<!-- PANEL 15 RESERVA -->
<g id="p15">
<text class="ttl" x="1947" y="1478">EDITAR RESERVA</text>
<g id="p15-inici"><ellipse class="s" cx="1985" cy="1531.5" rx="26" ry="19.5"/><text class="t" x="1985" y="1535.5">INICI</text></g>
<g id="p15-menu"><rect class="b" x="2083" y="1511" width="141" height="37" rx="6"/><text class="t" x="2153.5" y="1533">ACCEDIR MENÚ</text></g>
<g id="p15-cart"><rect class="b" x="1954" y="1601" width="129" height="30" rx="5"/><text class="t" x="2018.5" y="1621">CAMBIAR CARTELL</text></g>
<g id="p15-dec"><polygon class="b" points="2018,1704 2078,1743.5 2018,1783 1958,1743.5"/><text class="t10" x="2018" y="1741.5">IMATGE FORMAT</text><text class="t10" x="2018" y="1755.5">CORRECTE?</text></g>
<g id="p15-fi"><circle class="fi" cx="2155" cy="1775.5" r="25"/><circle class="fo" cx="2155" cy="1775.5" r="20"/><text class="t" x="2155" y="1779.5">FI</text></g>
<g id="p15-edges" class="e">
<path class="f" d="M2011,1531 H2083"/>
<path d="M2153,1548 V1580 H2018 V1601"/>
<path d="M2018,1631 V1704"/>
<path d="M2078,1743 H2155 V1621 H2083"/>
<path d="M2018,1783 V1826 H2155 V1801"/>
<text class="lb" x="2136" y="1723">No</text>
<text class="lx" x="2045" y="1784">Si</text>
</g>
</g>
</svg>
